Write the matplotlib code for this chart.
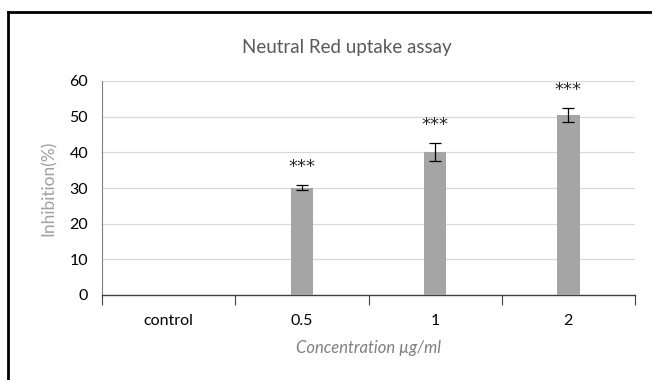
import matplotlib.pyplot as plt
from matplotlib.lines import Line2D
import numpy as np

categories = ['control', '0.5', '1', '2']
inhibition = [0, 30.1, 40.1, 50.5]
errors = [0, 0.7, 2.6, 1.9]
stars = ['', '***', '***', '***']

plt.rcParams['font.family'] = ['Lato', 'DejaVu Sans']

fig = plt.figure(figsize=(6.52, 3.8), dpi=100)
ax = fig.add_axes([102/652, 1 - 295/380, (635-102)/652, (295-81)/380])

x = np.arange(len(categories))
ax.bar(x, inhibition, width=0.17, color='#a5a5a5', zorder=3)
for xi, v, e, s in zip(x, inhibition, errors, stars):
    if e > 0:
        ax.errorbar(xi, v, yerr=e, fmt='none', ecolor='black', elinewidth=0.9,
                    capsize=4, capthick=0.9, zorder=4)
    if s:
        ax.text(xi, v + e + 5.0, s, ha='center', va='center', fontsize=13,
                color='#262626', family='DejaVu Sans')

ax.set_xlim(-0.5, 3.5)
ax.set_ylim(0, 60)
ax.set_yticks(range(0, 61, 10))
ax.set_xticks(x)
ax.set_xticklabels(categories)
ax.set_xticks(np.arange(-0.5, 4, 1), minor=True)
ax.tick_params(axis='x', which='major', length=0, pad=14, labelsize=11.5)
ax.tick_params(axis='x', which='minor', length=7, width=0.8, color='#404040', direction='out')
ax.tick_params(axis='y', length=0, pad=10, labelsize=11.5)
ax.grid(axis='y', color='#d9d9d9', linewidth=0.9, zorder=0)

for sp in ['top', 'right']:
    ax.spines[sp].set_visible(False)
ax.spines['left'].set_color('#808080')
ax.spines['left'].set_linewidth(0.8)
ax.spines['bottom'].set_color('#404040')
ax.spines['bottom'].set_linewidth(1.0)

ax.set_ylabel('Inhibition(%)', color='#a0a0a0', fontsize=12.5, labelpad=9)
ax.set_xlabel('Concentration µg/ml', color='#7f7f7f', fontsize=12, style='italic', labelpad=8)
fig.text(347/652, 1 - 48/380, 'Neutral Red uptake assay', ha='center', va='center',
         fontsize=13.5, color='#595959')

# outer frame (only top and left edges are inside the picture)
top = 1 - 12/380
left = 8/652
fig.lines.append(Line2D([left, 1.0], [top, top], transform=fig.transFigure,
                        color='black', linewidth=2))
fig.lines.append(Line2D([left, left], [0, top], transform=fig.transFigure,
                        color='black', linewidth=2))

fig.savefig('out.png', dpi=100)
